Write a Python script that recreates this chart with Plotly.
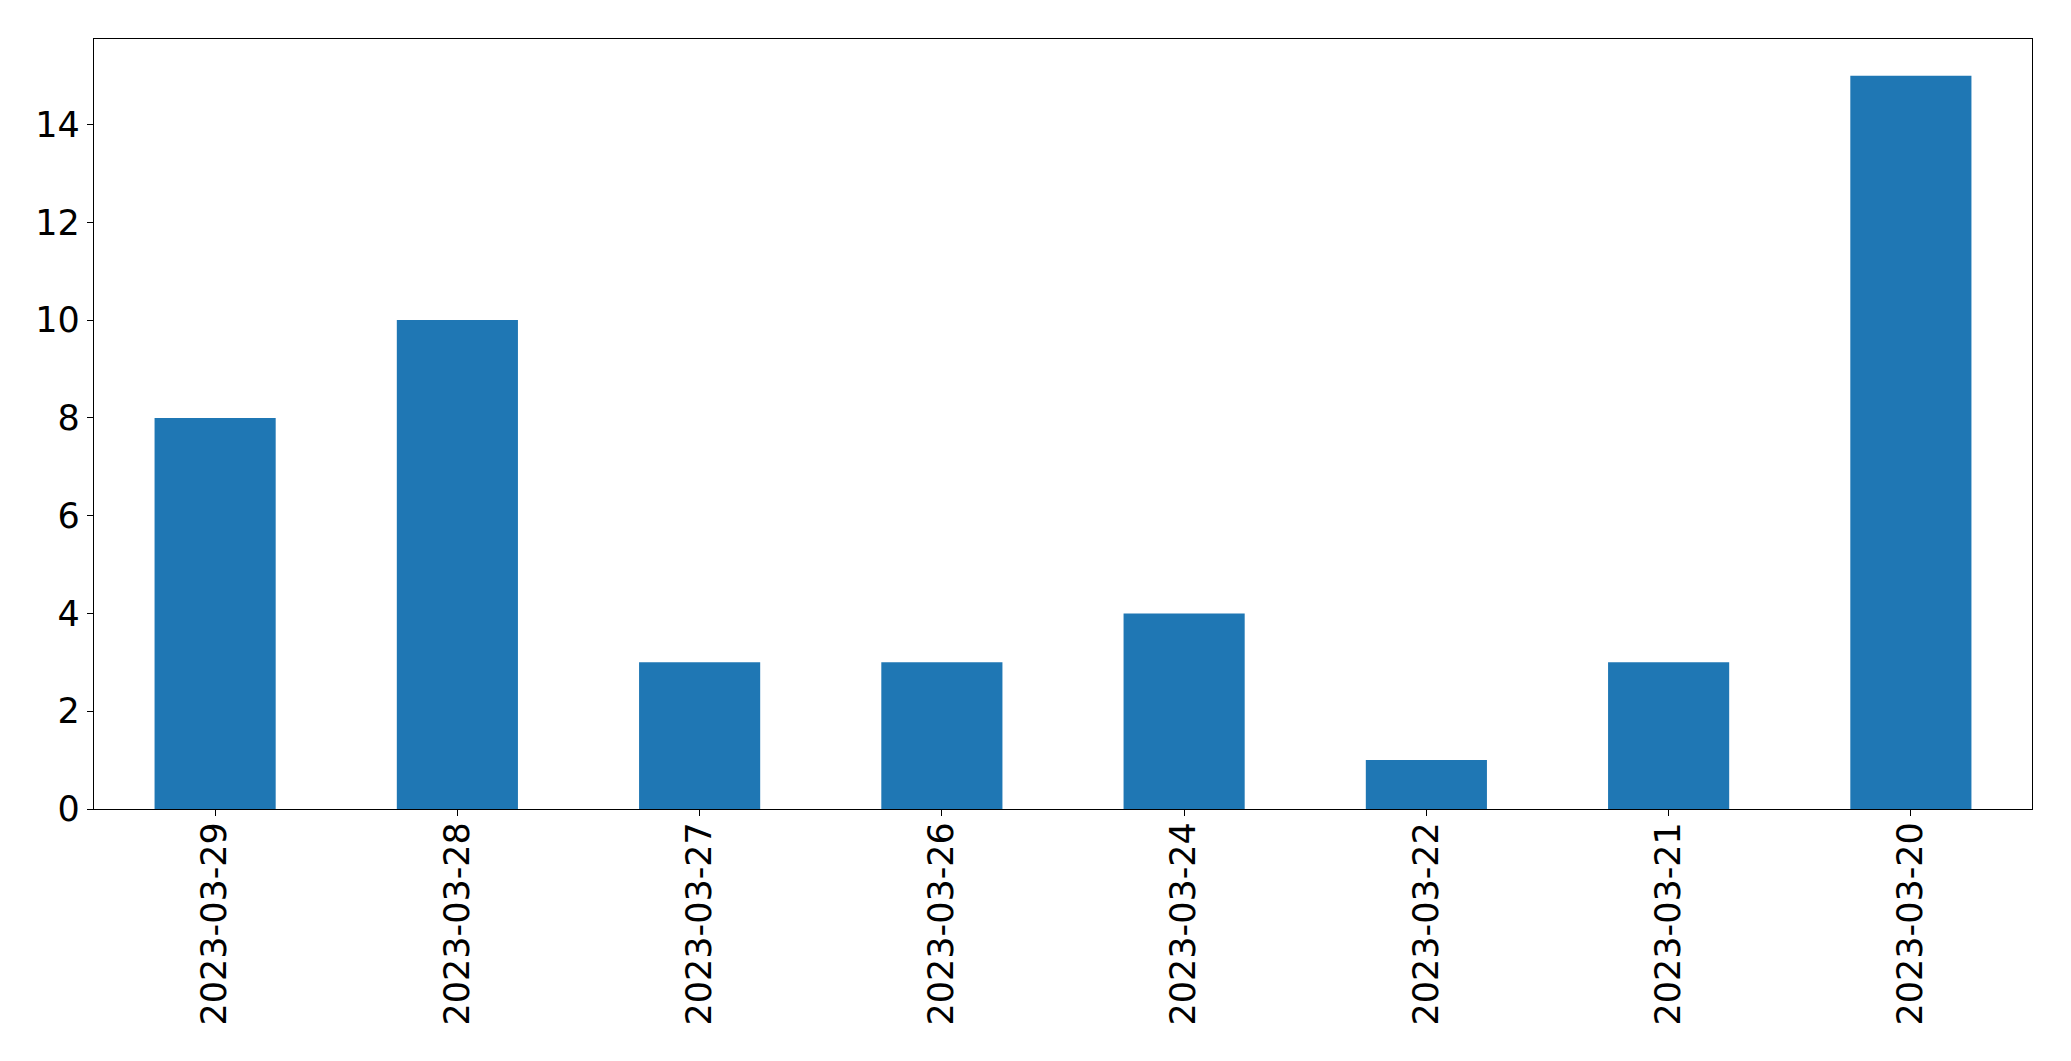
import plotly.graph_objects as go

dates = ["2023-03-29", "2023-03-28", "2023-03-27", "2023-03-26",
         "2023-03-24", "2023-03-22", "2023-03-21", "2023-03-20"]
counts = [8, 10, 3, 3, 4, 1, 3, 15]
y_ticks = [0, 2, 4, 6, 8, 10, 12, 14]

fig = go.Figure(go.Bar(x=dates, y=counts, marker=dict(color="#1f77b4", line=dict(width=0))))

W, H = 2055, 1045
fig.update_layout(
    width=W, height=H,
    margin=dict(l=86, r=31, t=31, b=244, pad=0),
    paper_bgcolor="white", plot_bgcolor="white",
    font=dict(family="DejaVu Sans", size=35, color="black"),
    bargap=0.5,
    showlegend=False,
)
fig.update_xaxes(
    type="category", range=[-0.5, len(dates) - 0.5],
    tickangle=-90, ticks="outside", ticklen=6, tickwidth=1.3, tickcolor="black",
    showline=True, linecolor="black", linewidth=1.3, mirror=True,
    showgrid=False, zeroline=False, ticklabelstandoff=-8,
)
fig.update_yaxes(
    range=[0, 15.75], tickvals=y_ticks, ticktext=[str(v) for v in y_ticks],
    ticks="outside", ticklen=6, tickwidth=1.3, tickcolor="black",
    showline=True, linecolor="black", linewidth=1.3, mirror=True,
    showgrid=False, zeroline=False, ticklabelstandoff=0,
)
fig.write_html("out.html")
